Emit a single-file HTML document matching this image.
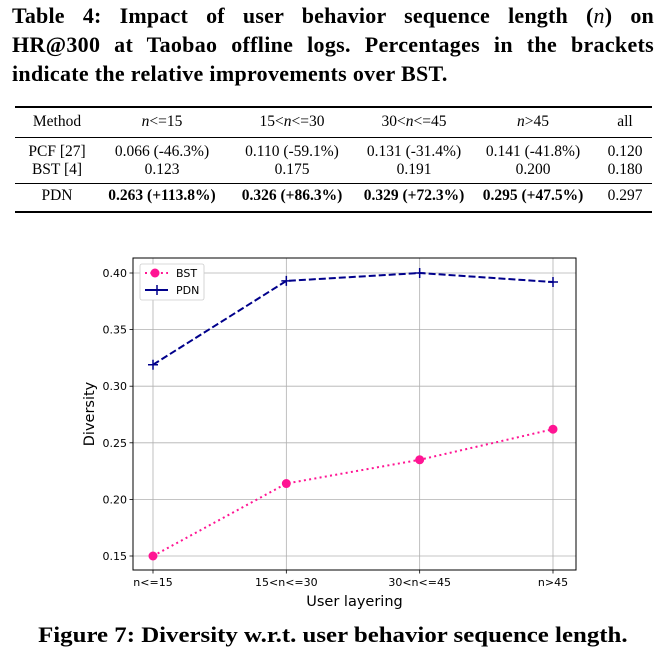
<!DOCTYPE html>
<html><head><meta charset="utf-8"><style>
body{margin:0;width:666px;height:655px;background:#fff;position:relative;font-family:"Liberation Serif",serif;overflow:hidden}
.tl{position:absolute;left:12px;width:642px;font-weight:bold;font-size:22px;line-height:28px;color:#000;text-align:justify;text-align-last:justify;white-space:nowrap}
.rule{position:absolute;left:15px;width:637px;background:#000}
.cell{position:absolute;font-size:15.5px;transform:translateX(-50%);white-space:nowrap}
.b{font-weight:bold}
.cap{position:absolute;left:0;width:666px;top:622px;text-align:center}
.cap span{display:inline-block;font-weight:bold;font-size:22px;transform:scaleX(1.13)}
svg text{font-family:"DejaVu Sans",sans-serif}
</style></head><body>
<div>
<div class="tl" style="top:2px;letter-spacing:0.2px">Table 4: Impact of user behavior sequence length (<i style="font-weight:normal">n</i>) on</div>
<div class="tl" style="top:31px;letter-spacing:0.3px">HR@300 at Taobao offline logs. Percentages in the brackets</div>
<div class="tl" style="top:60px;width:auto;text-align-last:auto;letter-spacing:0.3px">indicate the relative improvements over BST.</div>
</div>
<div class="rule" style="top:106px;height:2px"></div>
<div class="rule" style="top:137px;height:1px"></div>
<div class="rule" style="top:183px;height:1px"></div>
<div class="rule" style="top:211px;height:2px"></div>
<div>
<div class="cell" style="left:57px;top:113px">Method</div>
<div class="cell" style="left:162px;top:113px"><i>n</i>&lt;=15</div>
<div class="cell" style="left:292px;top:113px">15&lt;<i>n</i>&lt;=30</div>
<div class="cell" style="left:414px;top:113px">30&lt;<i>n</i>&lt;=45</div>
<div class="cell" style="left:533px;top:113px"><i>n</i>&gt;45</div>
<div class="cell" style="left:625px;top:113px">all</div>
</div>
<div>
<div class="cell" style="left:57px;top:143px">PCF [27]</div>
<div class="cell" style="left:162px;top:143px">0.066 (-46.3%)</div>
<div class="cell" style="left:292px;top:143px">0.110 (-59.1%)</div>
<div class="cell" style="left:414px;top:143px">0.131 (-31.4%)</div>
<div class="cell" style="left:533px;top:143px">0.141 (-41.8%)</div>
<div class="cell" style="left:625px;top:143px">0.120</div>
</div>
<div>
<div class="cell" style="left:57px;top:161px">BST [4]</div>
<div class="cell" style="left:162px;top:161px">0.123</div>
<div class="cell" style="left:292px;top:161px">0.175</div>
<div class="cell" style="left:414px;top:161px">0.191</div>
<div class="cell" style="left:533px;top:161px">0.200</div>
<div class="cell" style="left:625px;top:161px">0.180</div>
</div>
<div>
<div class="cell" style="left:57px;top:187px">PDN</div>
<div class="cell b" style="left:162px;top:187px">0.263 (+113.8%)</div>
<div class="cell b" style="left:292px;top:187px">0.326 (+86.3%)</div>
<div class="cell b" style="left:414px;top:187px">0.329 (+72.3%)</div>
<div class="cell b" style="left:533px;top:187px">0.295 (+47.5%)</div>
<div class="cell" style="left:625px;top:187px">0.297</div>
</div>
<svg id="chart" width="666" height="655" style="position:absolute;left:0;top:0"></svg>
<div class="cap"><span>Figure 7: Diversity w.r.t. user behavior sequence length.</span></div>
<script>
const categories=["n<=15","15<n<=30","30<n<=45","n>45"];
const bstValues=[0.150,0.214,0.235,0.262];
const pdnValues=[0.319,0.393,0.400,0.392];
const yTicks=[0.15,0.20,0.25,0.30,0.35,0.40];
const yTickLabels=["0.15","0.20","0.25","0.30","0.35","0.40"];
const svg=document.getElementById('chart');
const NS='http://www.w3.org/2000/svg';
const L=133,R=576,T=258,B=570;
const x=i=>153+i*(553-153)/(categories.length-1);
const y=v=>556-(v-0.15)*(556-273)/0.25;
function mk(t,a,p){const e=document.createElementNS(NS,t);for(const k in a)e.setAttribute(k,a[k]);(p||svg).appendChild(e);return e;}
let g=mk('g',{});


yTicks.forEach((v,i)=>{
 mk('line',{x1:L,x2:R,y1:y(v),y2:y(v),stroke:'#b0b0b0','stroke-width':0.8},g);
 mk('line',{x1:L-3.5,x2:L,y1:y(v),y2:y(v),stroke:'#000','stroke-width':0.8},g);
 const t=mk('text',{x:L-6,y:y(v)+4,'text-anchor':'end','font-size':11});t.textContent=yTickLabels[i];
 
 
});
categories.forEach((c,i)=>{
 mk('line',{x1:x(i),x2:x(i),y1:T,y2:B,stroke:'#b0b0b0','stroke-width':0.8},g);
 mk('line',{x1:x(i),x2:x(i),y1:B,y2:B+3.5,stroke:'#000','stroke-width':0.8},g);
 const t=mk('text',{x:x(i),y:B+16,'text-anchor':'middle','font-size':11});t.textContent=c;
 
 
});
const fr=mk('rect',{x:L,y:T,width:R-L,height:B-T,fill:'none',stroke:'#000','stroke-width':1});


const pdn=mk('polyline',{points:pdnValues.map((v,i)=>x(i)+','+y(v)).join(' '),fill:'none',stroke:'#00008b','stroke-width':2,'stroke-dasharray':'7,3'});


pdnValues.forEach((v,i)=>{
 const p=mk('path',{d:`M${x(i)-5},${y(v)}h10M${x(i)},${y(v)-5}v10`,stroke:'#00008b','stroke-width':1.5});
 
 
});
const bst=mk('polyline',{points:bstValues.map((v,i)=>x(i)+','+y(v)).join(' '),fill:'none',stroke:'#ff1493','stroke-width':2,'stroke-dasharray':'2,3.3'});


bstValues.forEach((v,i)=>{
 const c=mk('circle',{cx:x(i),cy:y(v),r:4.5,fill:'#ff1493'});
 
 
});
const lg=mk('g',{});


mk('rect',{x:140,y:264,width:64,height:36,rx:2,fill:'#fff',stroke:'#ccc','stroke-width':0.8},lg);
mk('line',{x1:145,x2:168,y1:273,y2:273,stroke:'#ff1493','stroke-width':2,'stroke-dasharray':'2,3.3'},lg);
mk('circle',{cx:155,cy:273,r:4.5,fill:'#ff1493'},lg);
let t1=mk('text',{x:176,y:277,'font-size':11},lg);t1.textContent='BST';
mk('line',{x1:145,x2:168,y1:290,y2:290,stroke:'#00008b','stroke-width':2},lg);
mk('path',{d:'M152,290h10M157,285v10',stroke:'#00008b','stroke-width':1.5},lg);
let t2=mk('text',{x:176,y:294,'font-size':11},lg);t2.textContent='PDN';
const xl=mk('text',{x:(L+R)/2,y:606,'text-anchor':'middle','font-size':14.5});xl.textContent='User layering';


const yl=mk('text',{x:0,y:0,'text-anchor':'middle','font-size':14.5,transform:`translate(94,${(T+B)/2}) rotate(-90)`});yl.textContent='Diversity';


</script>
</body></html>
